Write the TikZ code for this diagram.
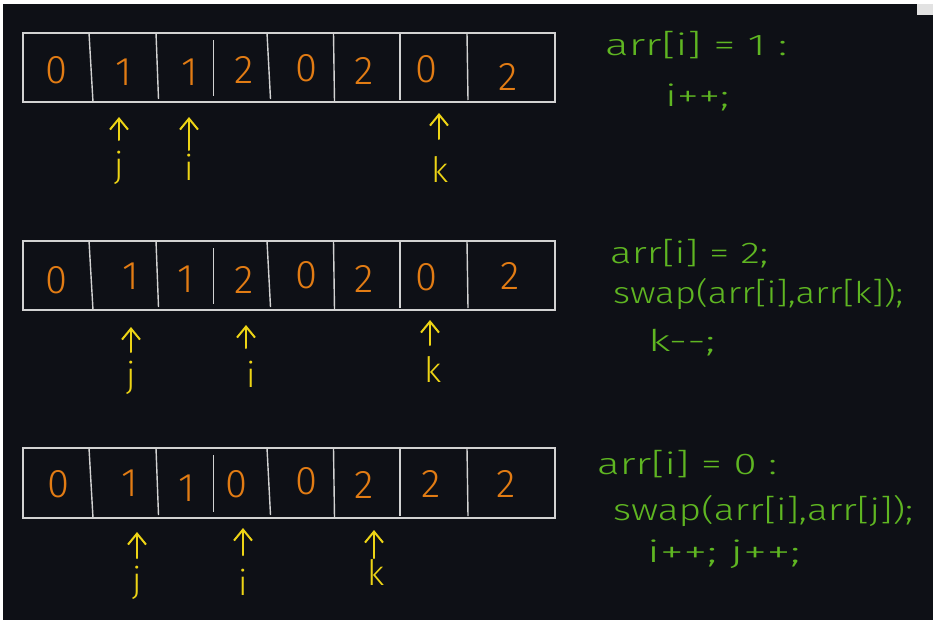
\documentclass[tikz,border=0pt]{standalone}
\usepackage{graphicx}
\usepackage{fontspec}
\usetikzlibrary{arrows.meta}
\newfontfamily\handfont{Fira Sans Light}

\definecolor{board}{HTML}{0E1016}
\definecolor{tabgray}{HTML}{E2E2E2}
\definecolor{gridgray}{HTML}{D2D2D2}
\definecolor{digitorange}{HTML}{E27C14}
\definecolor{ptryellow}{HTML}{EDD415}
\definecolor{codegreen}{HTML}{5FB622}

% stretch a line of code to a given width, keeping its height
\newcommand\wideline[2]{\resizebox{#1}{\height}{#2}}

\tikzset{
  cellbox/.style={draw=gridgray, line width=1.6pt},
  divider/.style={draw=gridgray, line width=1.4pt},
  digit/.style={anchor=base, inner sep=0pt, text=digitorange,
    font=\handfont\fontsize{40}{42}\selectfont},
  ptrlabel/.style={anchor=north, inner sep=0pt, text=ptryellow,
    font=\handfont\fontsize{35}{37}\selectfont},
  ptr/.style={draw=ptryellow, line width=2pt, line cap=round,
    -{Straight Barb[length=11pt,width=18pt,line width=2pt]}},
  code/.style={anchor=base west, inner sep=0pt, text=codegreen,
    font=\handfont\fontsize{30}{32}\selectfont},
}

\begin{document}
\begin{tikzpicture}[x=1pt,y=-1pt]
  \useasboundingbox (0,0) rectangle (933,624);
  \fill[white] (0,0) rectangle (933,624);
  \fill[board] (3,4) rectangle (933,620);
  \fill[tabgray] (917,4) rectangle (933,15);

  % ---------- array frames (top y, bottom y) ----------
  \foreach \t/\b in {33/102, 241/310, 448/518} {
    \draw[cellbox] (23,\t) rectangle (555,\b);
    \draw[divider] (89,\t) -- (93,\b);
    \draw[divider] (156,\t) -- (158.5,\b-3);
    \draw[divider] (213.5,\t+7) -- (213.5,\b-6);
    \draw[divider] (267,\t) -- (270.5,\b-3);
    \draw[divider] (333.5,\t) -- (334.5,\b);
    \draw[divider] (400,\t) -- (400,\b-2);
    \draw[divider] (467,\t) -- (468,\b-2);
  }

  % ---------- row 1 ----------
  \node[digit] (a1) at (56,83)  {0};
  \node[digit] (a2) at (124,85) {1};
  \node[digit] (a3) at (190,85) {1};
  \node[digit] (a4) at (244,83) {2};
  \node[digit] (a5) at (306,81) {0};
  \node[digit] (a6) at (364,84) {2};
  \node[digit] (a7) at (426,82) {0};
  \node[digit] (a8) at (508,90) {2};

  \node[ptrlabel] (aj) at (119,151) {j};
  \node[ptrlabel] (ai) at (189,154) {i};
  \node[ptrlabel] (ak) at (440,156) {k};
  \coordinate (ajb) at (119,140); \coordinate (ajt) at (119,117);
  \coordinate (aib) at (189,150); \coordinate (ait) at (189,117);
  \coordinate (akb) at (439,139); \coordinate (akt) at (439,113);
  \draw[ptr] (ajb) -- (ajt);
  \draw[ptr] (aib) -- (ait);
  \draw[ptr] (akb) -- (akt);

  \node[code] (ac1) at (605,55)  {\wideline{182pt}{arr[i] = 1 :}};
  \node[code] (ac2) at (665,106) {\wideline{64pt}{i++;}};

  % ---------- row 2 ----------
  \node[digit] (b1) at (56,293)  {0};
  \node[digit] (b2) at (131,289) {1};
  \node[digit] (b3) at (186,292) {1};
  \node[digit] (b4) at (244,293) {2};
  \node[digit] (b5) at (306,288) {0};
  \node[digit] (b6) at (364,292) {2};
  \node[digit] (b7) at (426,290) {0};
  \node[digit] (b8) at (510,289) {2};

  \node[ptrlabel] (bj) at (131,361) {j};
  \node[ptrlabel] (bi) at (251,361) {i};
  \node[ptrlabel] (bk) at (433,356) {k};
  \coordinate (bjb) at (131,352); \coordinate (bjt) at (131,327);
  \coordinate (bib) at (246,348); \coordinate (bit) at (246,325);
  \coordinate (bkb) at (430,345); \coordinate (bkt) at (430,320);
  \draw[ptr] (bjb) -- (bjt);
  \draw[ptr] (bib) -- (bit);
  \draw[ptr] (bkb) -- (bkt);

  \node[code] (bc1) at (610,263) {\wideline{158pt}{arr[i] = 2;}};
  \node[code] (bc2) at (613,303) {\wideline{290pt}{swap(arr[i],arr[k]);}};
  \node[code] (bc3) at (648,351) {\wideline{67pt}{k--;}};

  % ---------- row 3 ----------
  \node[digit] (c1) at (58,497)  {0};
  \node[digit] (c2) at (130,496) {1};
  \node[digit] (c3) at (187,501) {1};
  \node[digit] (c4) at (236,497) {0};
  \node[digit] (c5) at (306,494) {0};
  \node[digit] (c6) at (364,498) {2};
  \node[digit] (c7) at (431,497) {2};
  \node[digit] (c8) at (506,497) {2};

  \node[ptrlabel] (cj) at (137,566) {j};
  \node[ptrlabel] (ci) at (243,569) {i};
  \node[ptrlabel] (ck) at (376,559) {k};
  \coordinate (cjb) at (137,558); \coordinate (cjt) at (137,532);
  \coordinate (cib) at (243,555); \coordinate (cit) at (243,528);
  \coordinate (ckb) at (374,558); \coordinate (ckt) at (374,530);
  \draw[ptr] (cjb) -- (cjt);
  \draw[ptr] (cib) -- (cit);
  \draw[ptr] (ckb) -- (ckt);

  \node[code] (cc1) at (597,474) {\wideline{180pt}{arr[i] = 0 :}};
  \node[code] (cc2) at (613,520) {\wideline{300pt}{swap(arr[i],arr[j]);}};
  \node[code] (cc3) at (647,562) {\wideline{153pt}{i++; j++;}};
\end{tikzpicture}
\end{document}
